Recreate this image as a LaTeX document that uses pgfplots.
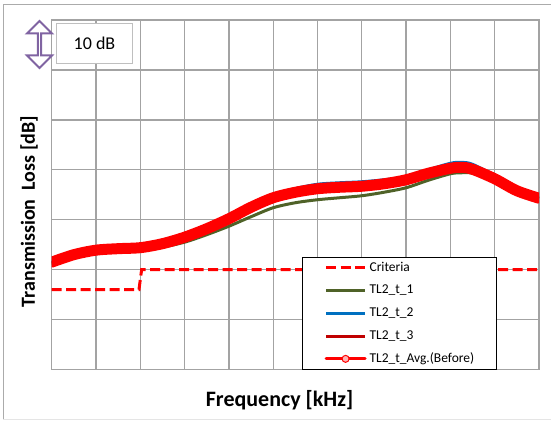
\documentclass[border=0pt]{standalone}
\usepackage{fontspec}
\setmainfont{Carlito}
\usepackage{pgfplots}
\pgfplotsset{compat=1.18}
\usetikzlibrary{shapes.arrows}

\definecolor{gridgray}{RGB}{163,163,163}
\definecolor{frameGray}{RGB}{150,150,150}
\definecolor{tlgreen}{RGB}{79,98,40}
\definecolor{tlblue}{RGB}{0,112,192}
\definecolor{tldarkred}{RGB}{192,0,0}
\definecolor{arrowpurple}{RGB}{128,100,162}

\pgfplotstableread{
x    t1    t2    t3    avg
0    21.1  21.5  21.4  21.5
0.5  22.6  23.0  22.9  23.0
1    23.5  23.9  23.8  23.9
1.5  23.7  24.2  24.1  24.2
2    23.8  24.4  24.3  24.4
2.5  24.5  25.2  25.1  25.2
3    25.5  26.5  26.4  26.5
3.5  27.0  28.2  28.1  28.2
4    28.7  30.2  30.1  30.2
4.5  30.6  32.5  32.4  32.5
5    32.4  34.6  34.3  34.4
5.5  33.4  36.2  35.4  35.5
6    34.0  37.1  36.1  36.2
6.5  34.4  37.4  36.4  36.5
7    34.8  37.6  36.6  36.7
7.5  35.5  38.0  37.1  37.2
8    36.4  38.6  37.9  38.0
8.5  37.9  40.0  39.2  39.3
9    39.2  41.3  40.2  40.3
9.25 39.4  41.5  40.4  40.5
9.5  39.3  41.1  40.0  40.1
10   37.7  38.8  38.1  38.2
10.5 35.6  35.9  35.7  35.8
11   34.3  34.3  34.3  34.3
}\tldata

\pgfplotstableread{
x    y
0    16
1.97 16
2.03 20
11   20
}\criteria

\begin{document}
\begin{tikzpicture}[x=1pt,y=1pt]
\path[use as bounding box] (0,0) rectangle (551,420);
% chart area border
\draw[frameGray!80, line width=1pt] (3.3,1) -- (3.3,415.3) -- (560,415.3);
\draw[gray!20, line width=1pt] (3.3,1) -- (560,1);

\begin{axis}[
  at={(51.7pt,50.5pt)}, anchor=south west,
  scale only axis, width=487.3pt, height=349.5pt,
  xmin=0, xmax=11, ymin=0, ymax=70,
  xtick={0,...,11}, ytick={0,10,...,70},
  xticklabels={}, yticklabels={},
  major tick length=0pt,
  grid=major,
  grid style={gridgray, line width=1.3pt},
  axis line style={gridgray, line width=1.3pt},
  xlabel={Frequency [kHz]},
  ylabel={Transmission\ \ Loss [dB]},
  xlabel style={at={(axis description cs:0.4675,-0.0873)}, anchor=center,
                font=\bfseries\fontsize{22}{26}\selectfont},
  ylabel style={at={(axis description cs:-0.0466,0.452)}, anchor=center,
                font=\bfseries\fontsize{20}{23}\selectfont},
  legend cell align=left,
  legend style={at={(axis description cs:0.514,0)}, anchor=south west,
    draw=black, line width=0.8pt, fill=white,
    font=\fontsize{13.5}{15}\selectfont,
    inner xsep=22pt, inner ysep=4pt,
    nodes={inner sep=0pt, text height=9.5pt, text depth=3pt},
    row sep=10.25pt, column sep=3pt},
  legend image code/.code={\draw[#1] (0pt,0pt) -- (39pt,0pt);},
]
\addplot[red, line width=3pt, dash pattern=on 10pt off 4.5pt] table[x=x,y=y]{\criteria};
\addlegendentry{Criteria}
\addplot[tlgreen, line width=3pt, smooth] table[x=x,y=t1]{\tldata};
\addlegendentry{TL2\_t\_1}
\addplot[tlblue, line width=3pt, smooth] table[x=x,y=t2]{\tldata};
\addlegendentry{TL2\_t\_2}
\addplot[tldarkred, line width=3pt, smooth] table[x=x,y=t3]{\tldata};
\addlegendentry{TL2\_t\_3}
\addplot[red, line width=11pt, smooth, line cap=round,
  legend image code/.code={
    \draw[red, line width=3pt] (0pt,0pt) -- (39pt,0pt);
    \draw[red, line width=1pt, fill=red!30] (19.5pt,0pt) circle (3.5pt);}]
  table[x=x,y=avg]{\tldata};
\addlegendentry{TL2\_t\_Avg.(Before)}
\end{axis}

% scale marker: 10 dB per grid division
\node[double arrow, draw=arrowpurple, line width=2pt, fill=white,
      rotate=90, inner sep=0pt, minimum width=25pt, minimum height=47pt,
      double arrow head extend=7pt] at (39.5,375.5) {};
\draw[gray!50, line width=1pt, fill=white] (56.7,356) rectangle (132.3,396.7);
\node[font=\fontsize{18}{22}\selectfont] at (94.5,376.5) {10 dB};
\end{tikzpicture}
\end{document}
